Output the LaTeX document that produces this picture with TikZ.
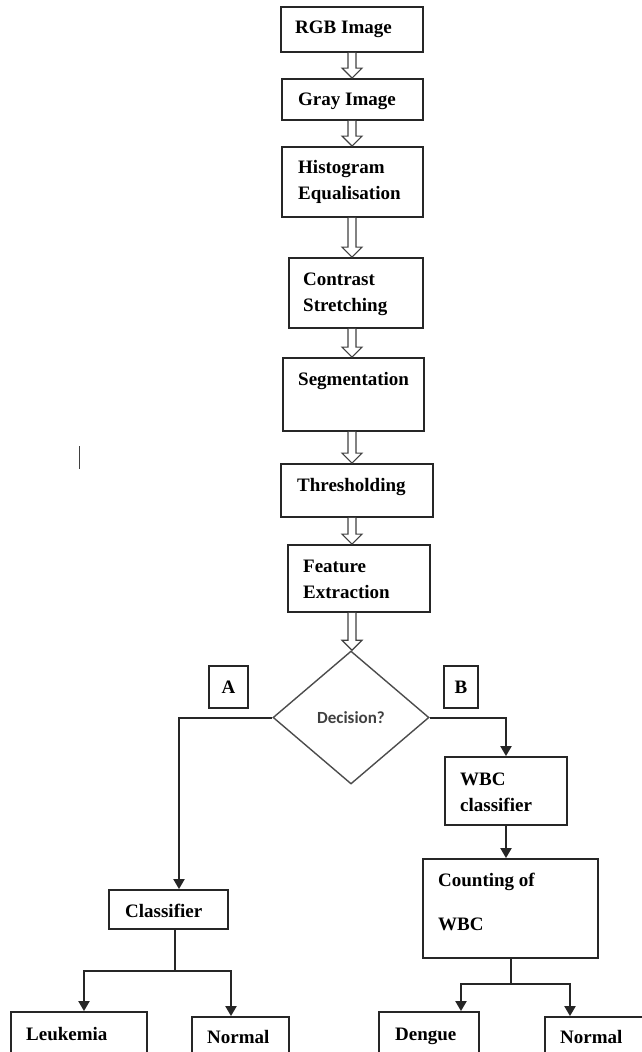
\documentclass[tikz,border=0pt]{standalone}
\usepackage{fontspec}
\setmainfont{Liberation Serif}
\newfontfamily\decfont{Carlito}
\usepackage{tikz}
\usetikzlibrary{arrows.meta,shapes.geometric,calc}
\tikzset{
  stagebox/.style={rectangle,draw=black!85,line width=1.8pt,inner sep=0pt},
  stagetext/.style={anchor=base west,inner sep=0pt,align=left,
    font=\fontsize{19}{26}\selectfont\bfseries},
  tagbox/.style={rectangle,draw=black!85,line width=1.8pt,inner sep=0pt,
    font=\fontsize{19}{26}\selectfont\bfseries},
  decisionnode/.style={diamond,draw=black!70,line width=1.4pt,inner sep=0pt,
    text=black!75,font=\decfont\fontsize{17}{20}\selectfont\bfseries},
  hollowarrow/.style={draw=black!75,line width=1.2pt,fill=white,line join=miter},
  flow/.style={draw=black!85,line width=2pt,-{Triangle[width=11pt,length=10pt]}},
  link/.style={draw=black!85,line width=2pt}
}
\begin{document}
\begin{tikzpicture}[x=1pt,y=-1pt]
  \useasboundingbox (0,0) rectangle (642,1052);
  \clip (0,0) rectangle (642,1052);
  \coordinate (spine) at (352,0);

  % pipeline boxes
  \node[stagebox,minimum width=142,minimum height=45] (rgb) at (352,29.5) {};
  \node[stagebox,minimum width=141,minimum height=41] (gray) at (352.5,99.5) {};
  \node[stagebox,minimum width=141,minimum height=70] (hist) at (352.5,182) {};
  \node[stagebox,minimum width=134,minimum height=70] (con) at (356,293) {};
  \node[stagebox,minimum width=141,minimum height=73] (seg) at (353.5,394.5) {};
  \node[stagebox,minimum width=152,minimum height=53] (thr) at (357,490.5) {};
  \node[stagebox,minimum width=142,minimum height=67] (fea) at (359,578.5) {};
  \node[decisionnode,minimum width=156,minimum height=133] (dec) at (351,717.5) {Decision?};

  \node[stagetext] (rgbT) at (295,33) {RGB Image};
  \node[stagetext] (grayT) at (298,105) {Gray Image};
  \node[stagetext] (histT) at (298,199) {Histogram\\Equalisation};
  \node[stagetext] (conT) at (303,311) {Contrast\\Stretching};
  \node[stagetext] (segT) at (298,385) {Segmentation};
  \node[stagetext] (thrT) at (297,491) {Thresholding};
  \node[stagetext] (feaT) at (303,598) {Feature\\Extraction};

  \foreach \a/\b in {rgb/gray,gray/hist,hist/con,con/seg,seg/thr,thr/fea,fea/dec}
    \draw[hollowarrow] let \p1=(spine |- \a.south), \p2=(spine |- \b.north) in
      (\x1-4pt,\y1) -- (\x1-4pt,\y2+10pt) -- (\x1-10pt,\y2+10pt) -- (\x1,\y2)
      -- (\x1+10pt,\y2+10pt) -- (\x1+4pt,\y2+10pt) -- (\x1+4pt,\y1);

  % branch A
  \node[tagbox,minimum width=39,minimum height=42] (tagA) at (228.5,687) {A};
  \node[stagebox,minimum width=119,minimum height=39] (cls) at (168.5,909.5) {};
  \node[stagebox,minimum width=136,minimum height=68] (leuk) at (79,1046) {};
  \node[stagebox,minimum width=97,minimum height=63] (normA) at (240.5,1048.5) {};
  \node[stagetext] (clsT) at (125,917) {Classifier};
  \node[stagetext] (leukT) at (26,1040) {Leukemia};
  \node[stagetext] (normAT) at (207,1043) {Normal};

  \draw[flow] (dec.west) -| ([xshift=10.5]cls.north);
  \draw[link] ([xshift=6.5]cls.south) -- ++(0,41) coordinate (clsfork);
  \draw[flow] (clsfork) -| ([xshift=5]leuk.north);
  \draw[flow] (clsfork) -| ([xshift=-9.5]normA.north);

  % branch B
  \node[tagbox,minimum width=34,minimum height=42] (tagB) at (461,687) {B};
  \node[stagebox,minimum width=122,minimum height=68] (wbc) at (506,791) {};
  \node[stagebox,minimum width=175,minimum height=99] (cnt) at (510.5,908.5) {};
  \node[stagebox,minimum width=100,minimum height=68] (deng) at (429,1046) {};
  \node[stagebox,minimum width=120,minimum height=63] (normB) at (605,1048.5) {};
  \node[stagetext] (wbcT) at (460,811) {WBC\\classifier};
  \node[stagetext] (cntT) at (438,930) {Counting of\\[18pt]WBC};
  \node[stagetext] (dengT) at (395,1040) {Dengue};
  \node[stagetext] (normBT) at (560,1043) {Normal};

  \draw[flow] (dec.east) -| (wbc.north);
  \draw[flow] (wbc.south) -- (wbc.south |- cnt.north);
  \draw[link] (cnt.south) -- ++(0,25) coordinate (cntfork);
  \draw[flow] (cntfork) -| ([xshift=32]deng.north);
  \draw[flow] (cntfork) -| ([xshift=-35]normB.north);

  % stray mark
  \draw[line width=1.5pt,black!75] (79.5,446) -- (79.5,469);
\end{tikzpicture}
\end{document}
